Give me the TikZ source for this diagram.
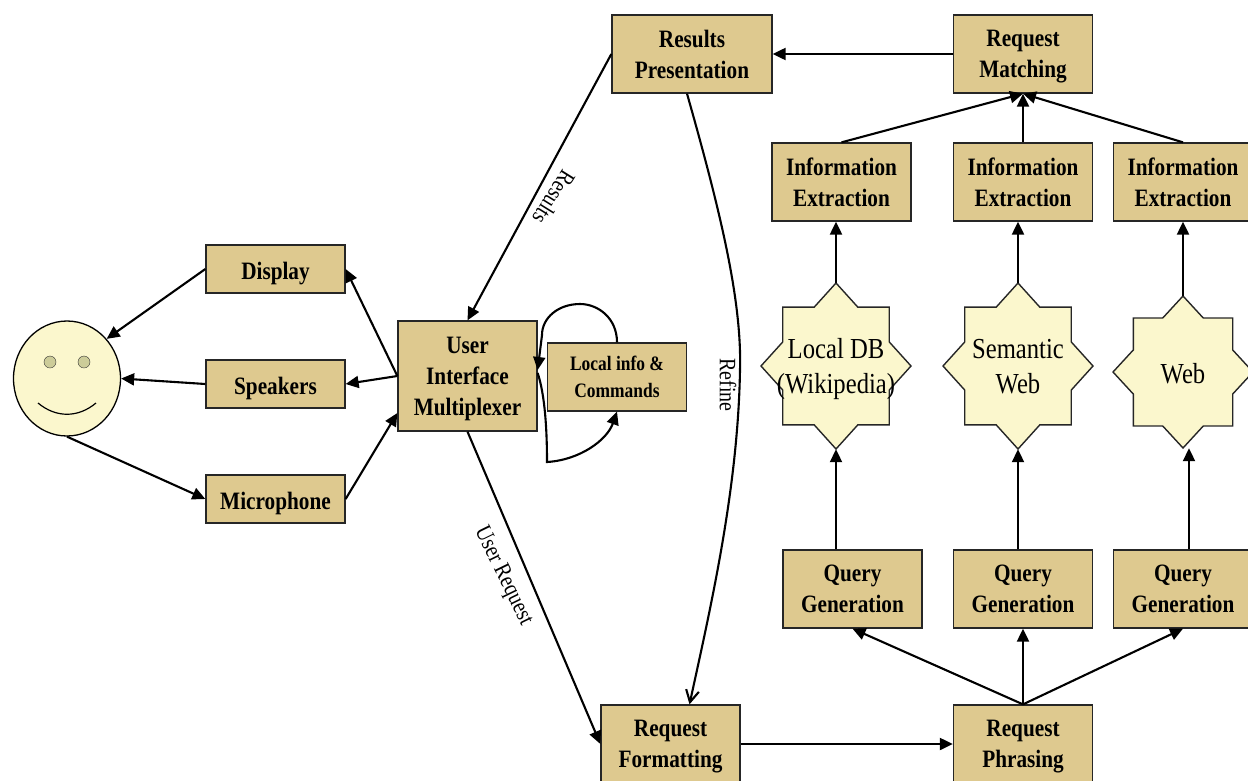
\documentclass[tikz,border=0pt]{standalone}
\usepackage{fontspec}
\setmainfont[FakeStretch=0.85]{Liberation Serif}
\usetikzlibrary{positioning,arrows.meta,shapes.geometric,calc}
\definecolor{boxtan}{RGB}{222,201,143}
\definecolor{paleyellow}{RGB}{251,247,205}
\definecolor{eyegray}{RGB}{204,204,153}
% eight pointed source: name, centre x, centre y, half width, half height, text
\newcommand{\sourcenode}[6]{%
  \draw[starline, shift={(#2,#3)}, xscale=#4, yscale=#5]
    (0,-1) -- (.29,-.71) -- (.71,-.71) -- (.71,-.29) -- (1,0) -- (.71,.29) -- (.71,.71) -- (.29,.71)
    -- (0,1) -- (-.29,.71) -- (-.71,.71) -- (-.71,.29) -- (-1,0) -- (-.71,-.29) -- (-.71,-.71) -- (-.29,-.71) -- cycle;
  \node[startext, minimum width=2*#4, minimum height=2*#5] (#1) at (#2,#3) {#6};}

\begin{document}
\begin{tikzpicture}[
  x=1pt, y=-1pt,
  box/.style={rectangle, draw=black!85, line width=1.3pt, fill=boxtan, minimum width=139pt,
              minimum height=78pt, inner sep=0pt, align=center, text depth=0pt,
              execute at begin node={\rule{0pt}{20pt}},
              font=\fontsize{25}{31}\selectfont\bfseries},
  thinbox/.style={box, minimum height=48pt},
  startext/.style={inner sep=0pt, align=center, text depth=0pt,
              execute at begin node={\rule{0pt}{23pt}},
              font=\fontsize{29}{35}\selectfont},
  starline/.style={draw=black!85, line width=1.4pt, fill=paleyellow, line join=miter},
  eye/.style={circle, draw=black!80, fill=eyegray, minimum size=12pt, inner sep=0pt},
  arrow/.style={-{Triangle[length=13pt,width=12pt]}, line width=2.1pt},
  edgelabel/.style={font=\fontsize{23.5}{28}\selectfont}
]
\useasboundingbox (0,0) rectangle (1248,780);

% Person
\node[ellipse, draw=black, line width=1.3pt, fill=paleyellow, minimum width=107pt, minimum height=115pt, inner sep=0pt] (face) at (67,378.5) {};
\node[eye] (eyeL) at (50,362) {};
\node[eye] (eyeR) at (84,362) {};
\draw[line width=1.2pt] (38,403) .. controls (56,418) and (78,418) .. (96,403);

% Nodes
\node[thinbox] (display) at (275.5,269) {Display};
\node[thinbox] (speakers) at (275.5,384) {Speakers};
\node[thinbox] (mic) at (275.5,499) {Microphone};
\node[box, minimum height=110pt] (mux) at (467.5,376) {User\\Interface\\Multiplexer};
\node[box, minimum height=68pt, font=\fontsize{20.5}{27}\selectfont\bfseries] (local) at (617,377) {Local info \&\\Commands};
\node[box, minimum width=160pt] (present) at (692,54) {Results\\Presentation};
\node[box] (matching) at (1023,54) {Request\\Matching};
\node[box] (extractA) at (841.5,182) {Information\\Extraction};
\node[box] (extractB) at (1023,182) {Information\\Extraction};
\node[box] (extractC) at (1183,182) {Information\\Extraction};
\node[box] (queryA) at (852.5,589) {Query\\Generation};
\node[box] (queryB) at (1023,589) {Query\\Generation};
\node[box] (queryC) at (1183,589) {Query\\Generation};
\node[box] (format) at (670.5,744) {Request\\Formatting};
\node[box] (phrasing) at (1023,744) {Request\\Phrasing};

\sourcenode{wiki}{836}{366}{75}{83}{Local DB\\(Wikipedia)}
\sourcenode{semantic}{1018}{366}{75}{83}{Semantic\\Web}
\sourcenode{web}{1183}{372}{70}{76}{Web}

\coordinate (loopcorner) at (547,462);

% Arrows
\draw[arrow] (display.west) -- (face.45);
\draw[arrow] (speakers.west) -- (face.east);
\draw[arrow] (face.south) -- (mic.west);
\draw[arrow] (mux.west) -- (display.east);
\draw[arrow] (mux.west) -- (speakers.east);
\draw[arrow] (mic.east) -- ([yshift=-37pt]mux.west);
\draw[arrow] (present.west) -- (mux.north);
\draw[arrow] (mux.south) -- (format.west);
\draw[arrow] (format.east) -- (phrasing.west);
\draw[arrow] (matching.west) -- (present.east);

\draw[arrow] (local.north) .. controls (617,318) and (598,304) .. (580,304) .. controls (558,304) and (542,318) .. (542,335) -- ([yshift=6pt]mux.east);
\draw[arrow] ([yshift=3pt]mux.east) .. controls (545,395) and (547,430) .. (loopcorner) .. controls (580,460) and (607,440) .. (local.south);
\draw[-{Straight Barb[length=12pt,width=13pt]}, line width=2.1pt] ([xshift=-5pt]present.south) .. controls (720,210) and (742,300) .. (740,370) .. controls (738,490) and (710,610) .. ([xshift=19pt]format.north);

\draw[arrow] (phrasing.north) -- (queryA.south);
\draw[arrow] (phrasing.north) -- (queryB.south);
\draw[arrow] (phrasing.north) -- (queryC.south);
\draw[arrow] (wiki.south |- queryA.north) -- (wiki.south);
\draw[arrow] (semantic.south |- queryB.north) -- (semantic.south);
\draw[arrow] ([xshift=6pt]web.south |- queryC.north) -- ([xshift=6pt]web.south);
\draw[arrow] (wiki.north) -- (wiki.north |- extractA.south);
\draw[arrow] (semantic.north) -- (semantic.north |- extractB.south);
\draw[arrow] (web.north) -- (web.north |- extractC.south);
\draw[arrow] (extractA.north) -- (matching.south);
\draw[arrow] (extractB.north) -- (matching.south);
\draw[arrow] (extractC.north) -- (matching.south);

% Labels
\node[edgelabel, rotate=-122] (lblResults) at (554,197.5) {Results};
\node[edgelabel, rotate=-90] (lblRefine) at (728,385) {Refine};
\node[edgelabel, rotate=-64] (lblUser) at (503,576) {User Request};
\end{tikzpicture}
\end{document}
